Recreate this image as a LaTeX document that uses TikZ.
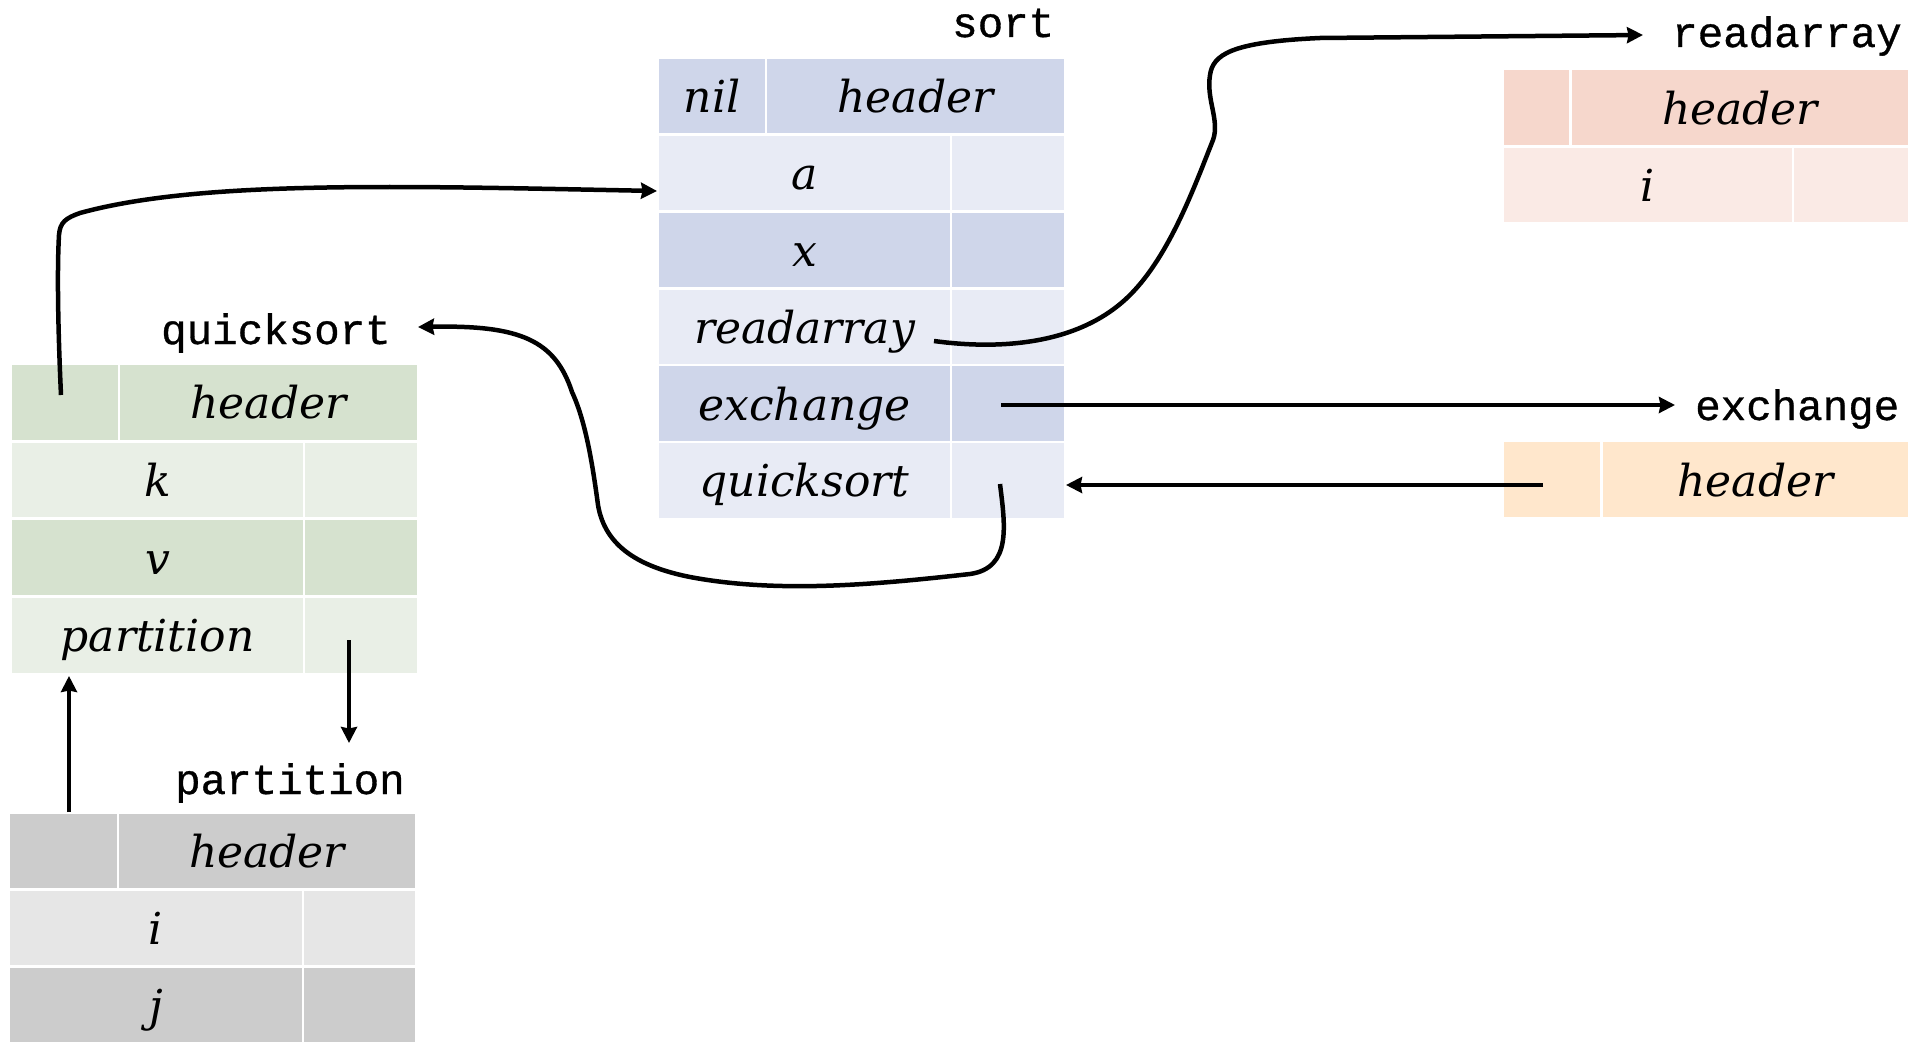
\documentclass[tikz,border=0pt]{standalone}
\usepackage{fontspec}
\usetikzlibrary{arrows.meta}
\newfontfamily\cellfont{DejaVu Serif}
\newfontfamily\labelfont{Liberation Mono}[FakeBold=0.8]

% activation-record palettes
\definecolor{sortD}{RGB}{207,214,234}
\definecolor{sortL}{RGB}{232,235,245}
\definecolor{qsD}{RGB}{214,226,207}
\definecolor{qsL}{RGB}{233,239,230}
\definecolor{ptD}{RGB}{204,204,204}
\definecolor{ptL}{RGB}{230,230,230}
\definecolor{rdD}{RGB}{246,215,204}
\definecolor{rdL}{RGB}{250,234,229}
\definecolor{exD}{RGB}{255,231,204}

\begin{document}
\begin{tikzpicture}[x=1pt,y=-1pt,
  cell/.style={inner sep=0pt, outer sep=0pt, anchor=north west,
    text height=33pt, text depth=0pt,
    font=\cellfont\itshape\fontsize{44}{50}\selectfont},
  hrow/.style={cell, minimum height=74.3pt},
  frame/.style={inner sep=0pt, anchor=base west,
    font=\labelfont\fontsize{42.5}{47}\selectfont},
  link/.style={line width=4.5pt, -{Stealth[length=16pt,width=16pt,inset=1.5pt]}},
]
\useasboundingbox (0,0) rectangle (1921,1041);

% ---- sort
\node[frame] (l-sort) at (952,37) {sort};
\node[hrow, fill=sortD, minimum width=106pt] (s-nil)  at (659,58.8) {nil};
\node[hrow, fill=sortD, minimum width=297pt] (s-head) at (767,58.8) {header};
\node[hrow, fill=sortL, minimum width=291pt] (s-a)    at (659,135.7) {a};
\node[hrow, fill=sortL, minimum width=112pt] (s-a-r)  at (952,135.7) {};
\node[hrow, fill=sortD, minimum width=291pt] (s-x)    at (659,212.6) {x};
\node[hrow, fill=sortD, minimum width=112pt] (s-x-r)  at (952,212.6) {};
\node[hrow, fill=sortL, minimum width=291pt] (s-rd)   at (659,289.5) {readarray};
\node[hrow, fill=sortL, minimum width=112pt] (s-rd-r) at (952,289.5) {};
\node[hrow, fill=sortD, minimum width=291pt] (s-ex)   at (659,366.4) {exchange};
\node[hrow, fill=sortD, minimum width=112pt] (s-ex-r) at (952,366.4) {};
\node[hrow, fill=sortL, minimum width=291pt] (s-qs)   at (659,443.3) {quicksort};
\node[hrow, fill=sortL, minimum width=112pt] (s-qs-r) at (952,443.3) {};

% ---- quicksort
\node[frame] (l-qs) at (161,344) {quicksort};
\node[cell, minimum height=74.5pt, fill=qsD, minimum width=106pt] (q-nil)  at (12,365) {};
\node[cell, minimum height=74.5pt, fill=qsD, minimum width=297pt] (q-head) at (120,365) {header};
\node[cell, minimum height=74.5pt, fill=qsL, minimum width=291pt] (q-k)    at (12,442.7) {k};
\node[cell, minimum height=74.5pt, fill=qsL, minimum width=112pt] (q-k-r)  at (305,442.7) {};
\node[cell, minimum height=74.5pt, fill=qsD, minimum width=291pt] (q-v)    at (12,520.4) {v};
\node[cell, minimum height=74.5pt, fill=qsD, minimum width=112pt] (q-v-r)  at (305,520.4) {};
\node[cell, minimum height=74.5pt, fill=qsL, minimum width=291pt] (q-pt)   at (12,598.1) {partition};
\node[cell, minimum height=74.5pt, fill=qsL, minimum width=112pt] (q-pt-r) at (305,598.1) {};

% ---- partition
\node[frame] (l-pt) at (175,794) {partition};
\node[cell, minimum height=74pt, fill=ptD, minimum width=107pt] (p-nil)  at (10,814) {};
\node[cell, minimum height=74pt, fill=ptD, minimum width=296pt] (p-head) at (119,814) {header};
\node[cell, minimum height=74pt, fill=ptL, minimum width=292pt] (p-i)    at (10,891) {i};
\node[cell, minimum height=74pt, fill=ptL, minimum width=111pt] (p-i-r)  at (304,891) {};
\node[cell, minimum height=74pt, fill=ptD, minimum width=292pt] (p-j)    at (10,968) {j};
\node[cell, minimum height=74pt, fill=ptD, minimum width=111pt] (p-j-r)  at (304,968) {};

% ---- readarray
\node[frame] (l-rd) at (1672,47) {readarray};
\node[cell, minimum height=75pt, fill=rdD, minimum width=65pt]  (r-nil)  at (1504,70) {};
\node[cell, minimum height=75pt, fill=rdD, minimum width=336pt] (r-head) at (1572,70) {header};
\node[cell, minimum height=74.6pt, fill=rdL, minimum width=288pt] (r-i)   at (1504,147.7) {i};
\node[cell, minimum height=74.6pt, fill=rdL, minimum width=114pt] (r-i-r) at (1794,147.7) {};

% ---- exchange
\node[frame] (l-ex) at (1695,420) {exchange};
\node[cell, minimum height=75pt, fill=exD, minimum width=96pt]  (e-nil)  at (1504,442) {};
\node[cell, minimum height=75pt, fill=exD, minimum width=305pt] (e-head) at (1603,442) {header};

% ---- pointer ends
\coordinate (q-up)     at (61,395);
\coordinate (s-a-in)   at (657,191);
\coordinate (s-rd-out) at (934,341);
\coordinate (l-rd-in)  at (1643,35);
\coordinate (s-ex-out) at (1001,405);
\coordinate (l-ex-in)  at (1675,405);
\coordinate (e-out)    at (1543,485);
\coordinate (s-qs-in)  at (1066,485);
\coordinate (s-qs-out) at (1000,484);
\coordinate (l-qs-in)  at (418,327);
\coordinate (q-pt-out) at (349,640);
\coordinate (l-pt-in)  at (349,743);
\coordinate (p-up)     at (69,812);
\coordinate (q-pt-in)  at (69,676);

% ---- pointers
\draw[link] (q-up) .. controls (58,330) and (57,270) .. (59,235)
  .. controls (60,222) and (66,218) .. (80,213)
  .. controls (200,180) and (400,186) .. (s-a-in);

\draw[link] (s-rd-out) .. controls (1000,350) and (1080,345) .. (1130,295)
  .. controls (1170,255) and (1195,185) .. (1213,140)
  .. controls (1220,120) and (1206,100) .. (1210,75)
  .. controls (1213,55) and (1230,42) .. (1320,38)
  -- (l-rd-in);

\draw[link] (s-ex-out) -- (l-ex-in);
\draw[link] (e-out) -- (s-qs-in);

\draw[link] (s-qs-out) .. controls (1005,525) and (1012,568) .. (970,574)
  .. controls (880,584) and (780,594) .. (690,577)
  .. controls (640,567) and (605,547) .. (598,505)
  .. controls (592,460) and (585,420) .. (572,392)
  .. controls (555,340) and (520,325) .. (l-qs-in);

\draw[link] (q-pt-out) -- (l-pt-in);
\draw[link] (p-up) -- (q-pt-in);
\end{tikzpicture}
\end{document}
